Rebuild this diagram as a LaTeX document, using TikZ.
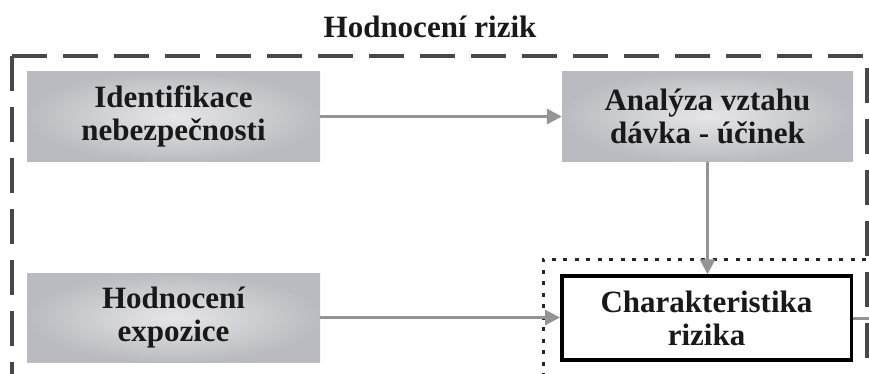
\documentclass[tikz,border=0pt]{standalone}
\usepackage{fontspec}
\setmainfont{Liberation Serif}
\usetikzlibrary{arrows.meta}
\definecolor{boxedge}{RGB}{186,187,192}
\definecolor{boxmid}{RGB}{230,230,232}
\definecolor{arrowgray}{RGB}{148,148,152}
\definecolor{dashgray}{RGB}{72,72,72}
\definecolor{txt}{RGB}{25,25,25}
\tikzset{
  txtfont/.style={font=\fontsize{31}{33}\selectfont\bfseries, text=txt},
  graybox/.style={txtfont, rectangle, align=center, inner sep=0pt,
    shading=radial, inner color=boxmid, outer color=boxedge},
  resultbox/.style={txtfont, rectangle, align=center, inner sep=0pt,
    draw=black, line width=3.5pt, fill=white},
  arr/.style={draw=arrowgray, line width=3pt,
    -{Triangle[length=15pt,width=15pt]}},
  plainline/.style={draw=arrowgray, line width=3pt},
  outerdash/.style={draw=dashgray, line width=3.3pt, dash pattern=on 35pt off 16pt},
  innerdot/.style={draw=black!85, line width=3pt, dash pattern=on 4pt off 7.5pt}
}
\begin{document}
\begin{tikzpicture}[x=1pt,y=-1pt]
  \clip (0,0) rectangle (869,374);
  \fill[white] (0,0) rectangle (869,374);

  % title
  \node[txtfont, anchor=base] (title) at (430,38) {Hodnocení rizik};

  % outer dashed frame (continues below the picture)
  \coordinate (fTL) at (12,56);
  \coordinate (fTR) at (867,56);
  \coordinate (fBL) at (12,400);
  \coordinate (fBR) at (867,400);
  \draw[outerdash] (fTL) -- (fBL);
  \draw[outerdash] (fTL) -- (fTR) -- (fBR);

  % inner dotted frame
  \coordinate (dTL) at (543,259);
  \coordinate (dTR) at (866,259);
  \coordinate (dBL) at (543,400);
  \draw[innerdot] (dBL) -- (dTL) -- (dTR);

  % boxes
  \node[graybox, minimum width=293pt, minimum height=90pt] (b1) at (173.5,116.5)
    {Identifikace\\nebezpečnosti};
  \node[graybox, minimum width=291pt, minimum height=90pt] (b2) at (707.5,116.5)
    {Analýza vztahu\\dávka - účinek};
  \node[graybox, minimum width=293pt, minimum height=89pt] (b3) at (173.5,317.5)
    {Hodnocení\\expozice};
  \node[resultbox, minimum width=289.5pt, minimum height=84pt] (b4) at (706.5,318)
    {Charakteristika\\rizika};

  % connectors
  \draw[arr] (b1.east) -- (b2.west);
  \draw[arr] (b2.south) -- (b2.south |- b4.north);
  \draw[arr] (b3.east) -- (b3.east -| b4.west);
  \coordinate (out) at (870,318);
  \draw[plainline] (b4.east) -- (out);
\end{tikzpicture}
\end{document}
